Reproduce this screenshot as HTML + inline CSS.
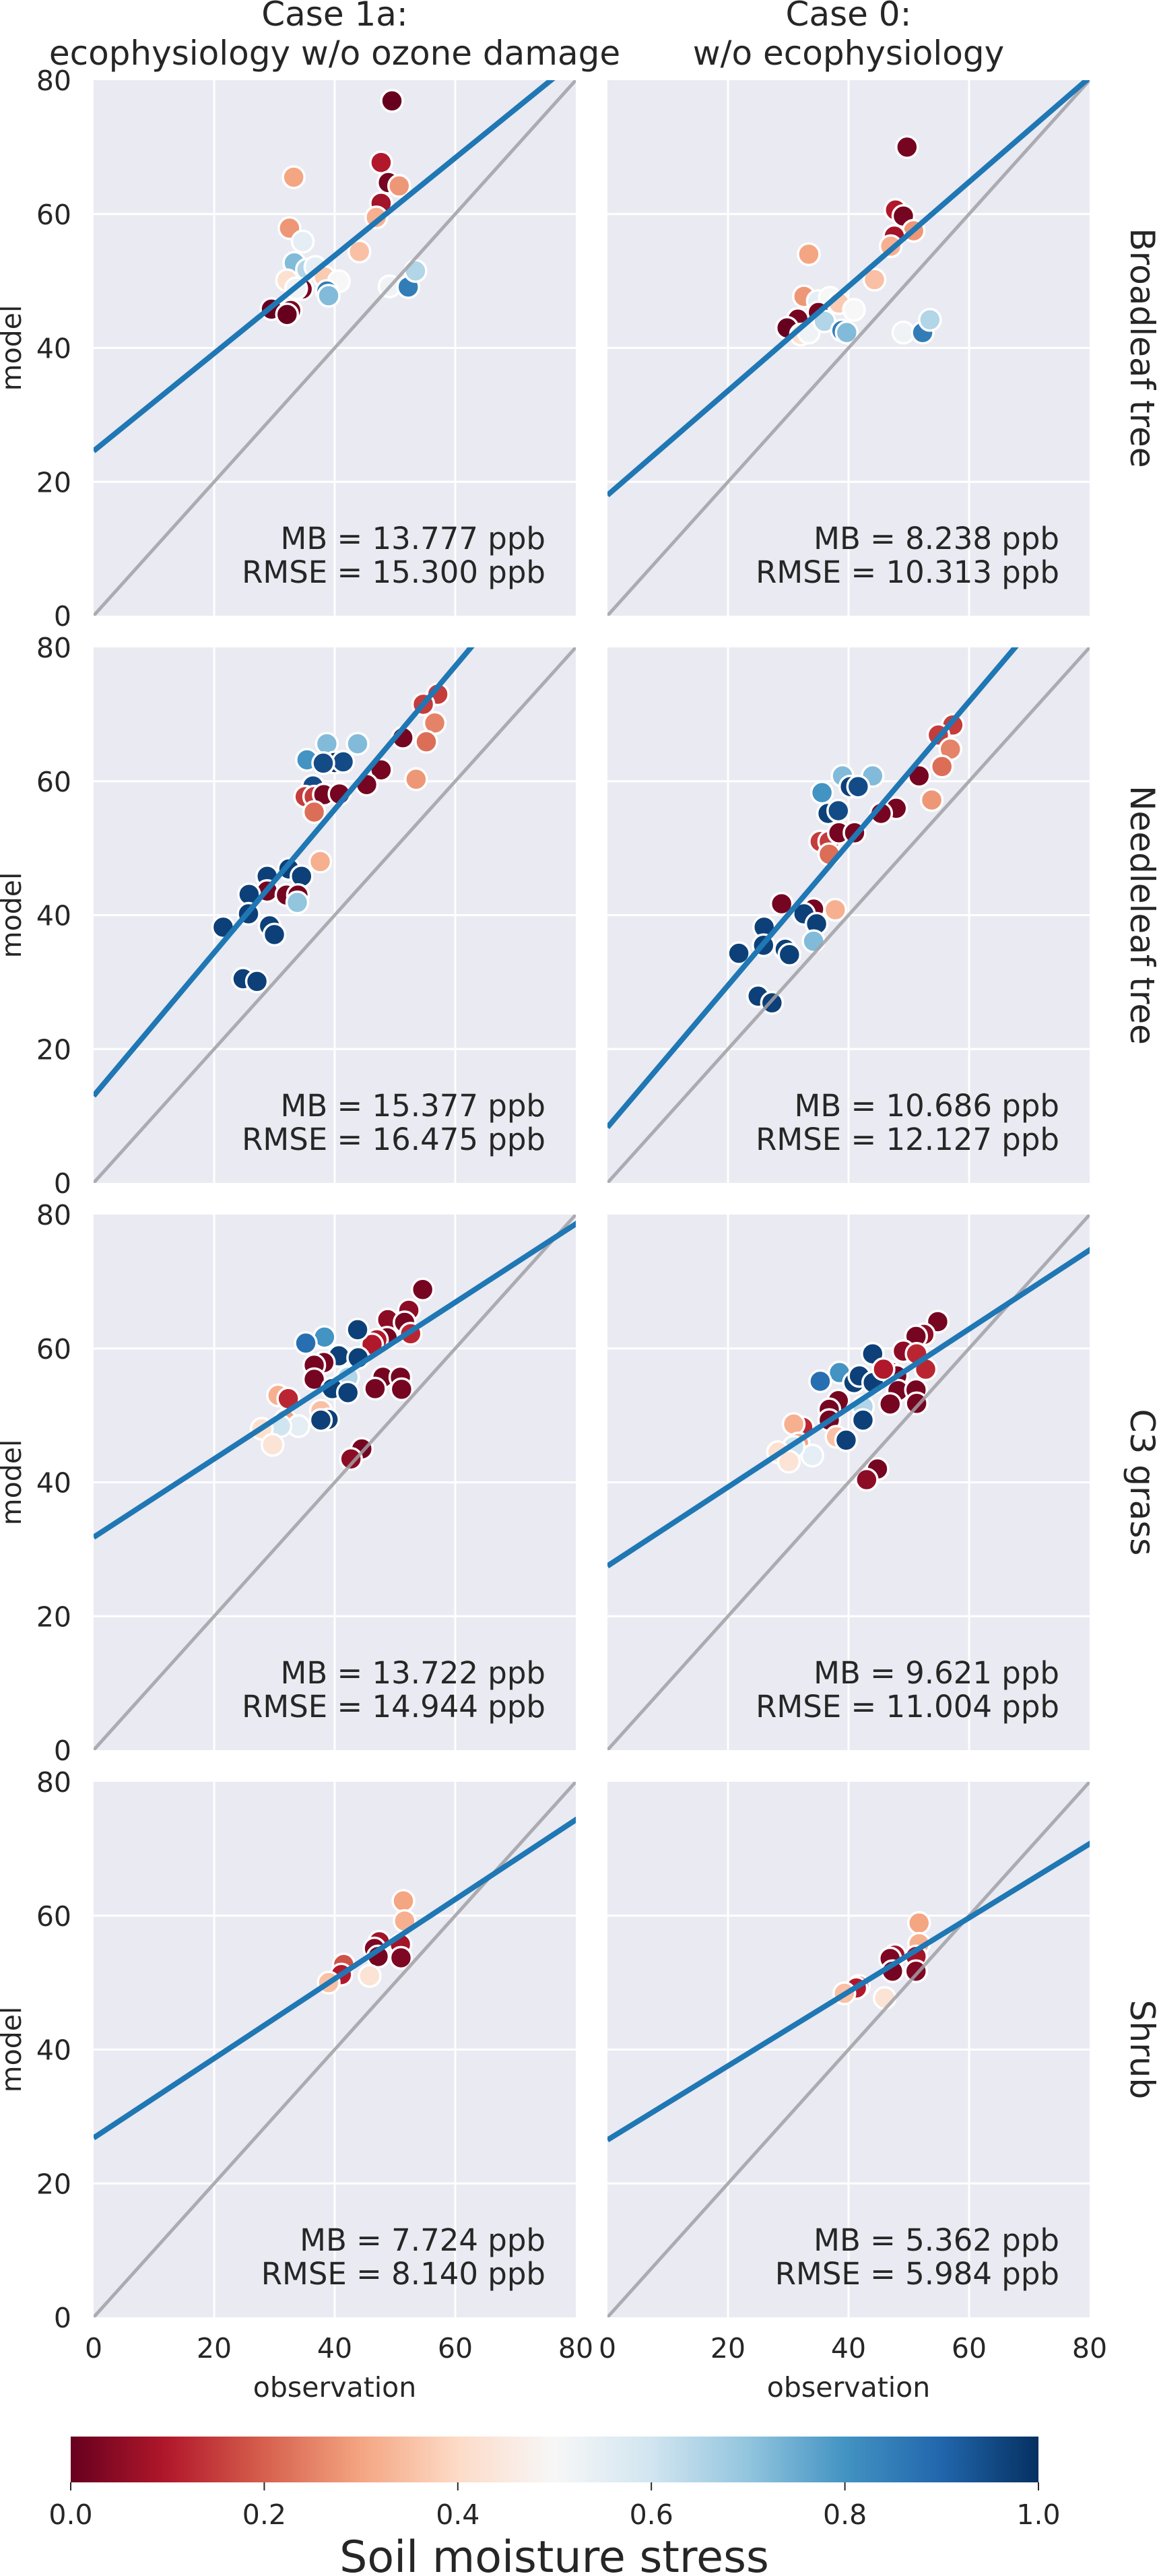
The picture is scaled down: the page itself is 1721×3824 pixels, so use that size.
<!DOCTYPE html>
<html><head><meta charset="utf-8"><style>
html,body{margin:0;padding:0;background:#fff}
svg{display:block}
text{font-family:"DejaVu Sans","Liberation Sans",sans-serif;fill:#262626}
</style></head><body>
<svg id="fig" width="1721" height="3824" viewBox="0 0 1721 3824" xmlns="http://www.w3.org/2000/svg">
<defs>
<linearGradient id="rdbu" x1="0" x2="1" y1="0" y2="0">
<stop offset="0" stop-color="#67001f"/><stop offset="0.1" stop-color="#b2182b"/><stop offset="0.2" stop-color="#d6604d"/><stop offset="0.3" stop-color="#f4a582"/><stop offset="0.4" stop-color="#fddbc7"/><stop offset="0.5" stop-color="#f7f7f7"/><stop offset="0.6" stop-color="#d1e5f0"/><stop offset="0.7" stop-color="#92c5de"/><stop offset="0.8" stop-color="#4393c3"/><stop offset="0.9" stop-color="#2166ac"/><stop offset="1" stop-color="#053061"/>
</linearGradient>
</defs>
<g id="panels"></g>
<text x="497" y="38" font-size="50" text-anchor="middle">Case 1a:</text>
<text x="497" y="96" font-size="50" text-anchor="middle">ecophysiology w/o ozone damage</text>
<text x="1260" y="38" font-size="50" text-anchor="middle">Case 0:</text>
<text x="1260" y="96" font-size="50" text-anchor="middle">w/o ecophysiology</text>
<g>
<rect x="105" y="3617" width="1437" height="68" fill="url(#rdbu)"/>
<g id="cbticks"></g>
<text x="823" y="3818" font-size="65" text-anchor="middle">Soil moisture stress</text>
</g>
</svg>
<script>
// ---- data ----
const rowLabels = ["Broadleaf tree","Needleleaf tree","C3 grass","Shrub"];
const mbText = [["MB = 13.777 ppb","MB = 8.238 ppb"],["MB = 15.377 ppb","MB = 10.686 ppb"],["MB = 13.722 ppb","MB = 9.621 ppb"],["MB = 7.724 ppb","MB = 5.362 ppb"]];
const rmseText = [["RMSE = 15.300 ppb","RMSE = 10.313 ppb"],["RMSE = 16.475 ppb","RMSE = 12.127 ppb"],["RMSE = 14.944 ppb","RMSE = 11.004 ppb"],["RMSE = 8.140 ppb","RMSE = 5.984 ppb"]];
const fitIntercept = [[24.6,18.0],[13.0,8.3],[31.8,27.5],[26.8,26.5]];
const fitSlope = [[0.73,0.78],[1.07,1.06],[0.585,0.59],[0.594,0.553]];
const tickValues = [0,20,40,60,80];
const cbTicks = [0.0,0.2,0.4,0.6,0.8,1.0];

const obs_r1c0 = [49.5,47.7,48.9,50.7,47.7,46.9,33.2,32.5,34.7,44.1,33.3,35.4,36.8,32.1,38.3,40.7,34.6,33.6,38.7,39.0,29.5,32.7,32.1,49.1,52.2,53.4];
const mod_r1c0 = [76.9,67.7,64.7,64.2,61.6,59.5,65.5,57.9,55.9,54.4,52.7,51.7,52.1,50.1,50.6,49.96,48.8,48.9,48.5,47.8,45.8,45.6,45.0,49.2,49.1,51.5];
const st_r1c0 = [0.0,0.1,0.02,0.28,0.08,0.32,0.3,0.28,0.55,0.35,0.72,0.65,0.55,0.42,0.37,0.5,0.02,0.52,0.85,0.72,0.0,0.02,0.0,0.52,0.85,0.65];

const obs_r1c1 = [49.7,47.8,49.1,50.8,47.6,47.0,33.4,44.3,32.6,34.9,36.9,38.4,40.9,35.0,31.6,29.8,32.1,33.4,36.0,38.9,39.7,49.1,52.3,53.5];
const mod_r1c1 = [70.0,60.6,59.7,57.5,56.7,55.2,54.0,50.2,47.7,47.0,47.5,46.7,45.7,45.3,44.3,43.0,42.0,42.3,43.98,42.6,42.3,42.3,42.3,44.2];
const st_r1c1 = [0.02,0.1,0.02,0.28,0.08,0.32,0.3,0.35,0.28,0.55,0.5,0.37,0.5,0.02,0.02,0.0,0.42,0.52,0.65,0.85,0.72,0.52,0.85,0.65];

const obs_r2c0 = [57.1,54.7,56.6,55.2,51.3,47.7,45.3,53.5,38.7,43.8,35.4,40.0,41.4,38.1,36.4,35.1,36.6,38.2,40.8,36.6,37.6,32.4,28.8,34.5,28.8,32.0,33.9,33.8,25.8,25.7,21.5,29.2,30.0,24.8,27.1];
const mod_r2c0 = [73.0,71.5,68.7,65.9,66.5,61.7,59.5,60.3,65.6,65.6,63.2,62.8,62.9,62.7,59.3,57.7,57.7,58.0,58.1,55.4,48.0,46.9,45.8,45.8,43.6,43.0,43.0,41.9,43.1,40.2,38.2,38.4,37.1,30.5,30.1];
const st_r2c0 = [0.15,0.15,0.25,0.22,0.02,0.02,0.02,0.28,0.72,0.72,0.8,1.0,0.95,0.95,0.95,0.15,0.15,0.02,0.02,0.22,0.32,0.97,0.97,0.97,0.02,0.02,0.02,0.7,0.97,0.97,0.97,0.97,0.97,0.97,0.97];

const obs_r2c1 = [57.3,54.9,56.9,55.5,51.7,47.9,45.4,53.8,39.0,44.0,35.6,40.3,41.6,36.6,38.3,35.3,36.8,38.4,41.0,36.8,37.8,28.9,34.2,32.6,34.7,26.0,34.2,25.9,29.5,30.2,21.8,25.0,27.3];
const mod_r2c1 = [68.4,66.9,64.8,62.2,60.8,55.96,55.2,57.2,60.8,60.8,58.3,59.2,59.2,55.2,55.6,51.0,51.0,52.3,52.3,49.1,40.8,41.7,40.9,40.2,38.7,38.2,36.1,35.5,34.9,34.1,34.3,27.9,26.9];
const st_r2c1 = [0.15,0.15,0.25,0.22,0.02,0.02,0.02,0.28,0.72,0.72,0.8,0.97,0.95,0.97,0.95,0.15,0.15,0.02,0.02,0.22,0.32,0.02,0.02,0.97,0.97,0.97,0.72,0.97,0.97,0.97,0.97,0.97,0.97];

const obs_r3c0 = [54.6,52.3,48.8,51.6,52.6,48.7,47.0,46.2,43.8,38.3,35.2,40.7,43.9,38.2,36.6,36.6,42.2,39.6,42.2,48.0,50.9,46.7,51.1,30.6,32.3,37.7,38.9,37.7,31.8,34.0,31.0,27.9,29.7,44.5,42.7];
const mod_r3c0 = [68.8,65.7,64.3,63.9,62.2,61.6,61.3,60.6,62.8,61.7,60.8,58.9,58.6,57.9,57.5,55.4,55.7,54.0,53.4,55.7,55.7,54.0,53.9,53.0,52.5,50.7,49.4,49.3,49.3,48.4,48.4,48.0,45.6,45.0,43.5];
const st_r3c0 = [0.02,0.05,0.05,0.02,0.12,0.02,0.1,0.1,0.97,0.8,0.88,0.97,0.97,0.02,0.02,0.02,0.65,0.97,0.97,0.02,0.02,0.02,0.02,0.32,0.12,0.35,0.97,0.97,0.3,0.55,0.6,0.42,0.43,0.02,0.05];

const obs_r3c1 = [54.8,52.5,51.2,49.1,51.3,52.8,44.0,38.5,35.3,40.9,41.8,44.1,46.9,48.0,45.8,48.2,51.2,46.9,51.3,38.3,36.8,36.8,42.4,42.4,32.4,30.9,38.0,39.6,31.7,34.0,30.9,28.3,30.1,44.8,43.0];
const mod_r3c1 = [64.0,62.1,61.8,59.6,59.2,56.9,59.2,56.4,55.1,54.9,55.9,54.9,56.5,55.9,56.9,53.7,53.8,51.7,51.8,52.2,50.9,49.3,51.3,49.3,48.2,48.7,46.8,46.3,45.8,44.0,45.3,44.5,43.1,42.0,40.4];
const st_r3c1 = [0.02,0.05,0.02,0.05,0.12,0.12,0.97,0.8,0.88,0.97,0.97,0.97,0.1,0.02,0.1,0.02,0.02,0.02,0.02,0.02,0.02,0.02,0.65,0.97,0.12,0.32,0.35,0.97,0.3,0.55,0.6,0.42,0.43,0.02,0.05];

const obs_r4c0 = [51.4,51.6,47.4,46.6,47.2,50.9,51.0,41.5,41.1,45.8,39.0];
const mod_r4c0 = [62.2,59.2,56.1,55.1,53.9,55.7,53.7,52.7,51.2,51.0,50.0];
const st_r4c0 = [0.3,0.32,0.08,0.03,0.02,0.08,0.03,0.18,0.1,0.43,0.35];

const obs_r4c1 = [51.7,51.7,47.7,46.9,47.3,51.2,51.2,41.7,41.3,46.0,39.3];
const mod_r4c1 = [58.9,55.8,54.1,53.6,51.7,53.9,51.7,49.5,49.2,47.7,48.4];
const st_r4c1 = [0.3,0.32,0.08,0.03,0.02,0.08,0.03,0.18,0.1,0.43,0.35];

const obsData = [[obs_r1c0,obs_r1c1],[obs_r2c0,obs_r2c1],[obs_r3c0,obs_r3c1],[obs_r4c0,obs_r4c1]];
const modData = [[mod_r1c0,mod_r1c1],[mod_r2c0,mod_r2c1],[mod_r3c0,mod_r3c1],[mod_r4c0,mod_r4c1]];
const stData = [[st_r1c0,st_r1c1],[st_r2c0,st_r2c1],[st_r3c0,st_r3c1],[st_r4c0,st_r4c1]];

// ---- layout ----
const NS = "http://www.w3.org/2000/svg";
const colX = [139, 902], rowY = [119, 961, 1803, 2645], PW = 716, PH = 795;
const stopsC = [[103,0,31],[178,24,43],[214,96,77],[244,165,130],[253,219,199],[247,247,247],[209,229,240],[146,197,222],[67,147,195],[33,102,172],[5,48,97]];
function cmap(v){
  v = Math.max(0, Math.min(1, v)); const t = v*10; const i = Math.min(9, Math.floor(t)); const f = t - i;
  const a = stopsC[i], b = stopsC[i+1];
  return "rgb(" + a.map((c,k)=>Math.round(c+(b[k]-c)*f)).join(",") + ")";
}
function mk(tag, attrs, parent){ const e = document.createElementNS(NS, tag); for (const k in attrs) e.setAttribute(k, attrs[k]); parent.appendChild(e); return e; }
const root = document.getElementById("panels");

for (let r = 0; r < 4; r++) {
  for (let c = 0; c < 2; c++) {
    const x0 = colX[c], y0 = rowY[r];
    const sx = v => x0 + v / 80 * PW;
    const sy = v => y0 + PH - v / 80 * PH;
    const g = mk("g", {}, root);
    
    
    const cp = mk("clipPath", {id: "cp" + r + c}, g);
    mk("rect", {x: x0, y: y0, width: PW, height: PH}, cp);
    const bg = mk("rect", {x: x0, y: y0, width: PW, height: PH, fill: "#eaeaf2"}, g);
    
    
    for (const t of tickValues) {
      if (t > 0 && t < 80) {
        const gv = mk("line", {x1: sx(t), x2: sx(t), y1: y0, y2: y0 + PH, stroke: "#fff", "stroke-width": 3}, g);
        
        
        const gh = mk("line", {x1: x0, x2: x0 + PW, y1: sy(t), y2: sy(t), stroke: "#fff", "stroke-width": 3}, g);
        
        
      }
      if (c === 0) {
        const yt = mk("text", {x: 106, y: sy(t) + 15, "font-size": 41, "text-anchor": "end"}, g);
        yt.textContent = String(t);
        
        
      }
      if (r === 3) {
        const xt = mk("text", {x: sx(t), y: 3500, "font-size": 41, "text-anchor": "middle"}, g);
        xt.textContent = String(t);
        
        
      }
    }
    const pts = mk("g", {"clip-path": "url(#cp" + r + c + ")"}, g);
    const ob = obsData[r][c], md = modData[r][c], st = stData[r][c];
    for (let i = 0; i < ob.length; i++) {
      const p = mk("circle", {cx: sx(ob[i]), cy: sy(md[i]), r: 16, fill: cmap(st[i]), stroke: "#fff", "stroke-width": 3.5}, pts);
      
      
    }
    const lines = mk("g", {"clip-path": "url(#cp" + r + c + ")"}, g);
    const one = mk("line", {x1: sx(0), y1: sy(0), x2: sx(80), y2: sy(80), stroke: "#a0a0a6", "stroke-width": 5, "stroke-opacity": 0.85}, lines);
    
    
    const a = fitIntercept[r][c], b = fitSlope[r][c];
    const fit = mk("line", {x1: sx(0), y1: sy(a), x2: sx(100), y2: sy(a + b*100), stroke: "#1f77b4", "stroke-width": 8}, lines);
    
    
    const t1 = mk("text", {x: x0 + 671, y: y0 + PH - 99, "font-size": 45, "text-anchor": "end"}, g);
    t1.textContent = mbText[r][c];
    
    
    const t2 = mk("text", {x: x0 + 671, y: y0 + PH - 49, "font-size": 45, "text-anchor": "end"}, g);
    t2.textContent = rmseText[r][c];
    
    
    if (c === 0) {
      const yl = mk("text", {x: 0, y: 0, "font-size": 41, "text-anchor": "middle", transform: "translate(31," + (y0 + PH/2) + ") rotate(-90)"}, g);
      yl.textContent = "model";
      
      
    } else {
      const rl = mk("text", {x: 0, y: 0, "font-size": 50, "text-anchor": "middle", transform: "translate(1679," + (y0 + PH/2) + ") rotate(90)"}, g);
      rl.textContent = rowLabels[r];
      
      
    }
    if (r === 3) {
      const xl = mk("text", {x: x0 + PW/2, y: 3558, "font-size": 41, "text-anchor": "middle"}, g);
      xl.textContent = "observation";
      
      
    }
  }
}
const cbg = document.getElementById("cbticks");
for (const v of cbTicks) {
  const x = 105 + v * 1437;
  const tk = mk("line", {x1: x, x2: x, y1: 3685, y2: 3697, stroke: "#262626", "stroke-width": 2}, cbg);
  
  
  const tl = mk("text", {x: x, y: 3747, "font-size": 41, "text-anchor": "middle"}, cbg);
  tl.textContent = v.toFixed(1);
  
  
}
</script>
</body></html>
